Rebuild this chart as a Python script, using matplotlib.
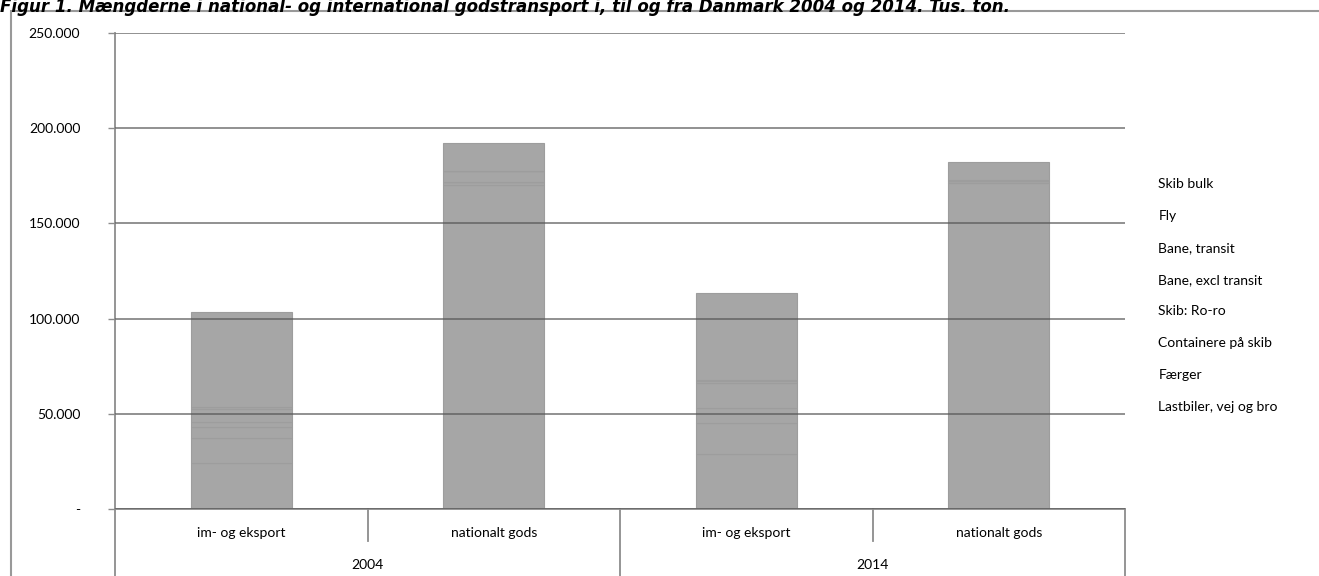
import matplotlib.pyplot as plt
import numpy as np
from matplotlib.patches import Rectangle
from matplotlib.transforms import blended_transform_factory

plt.rcParams['font.family'] = ['Lato', 'DejaVu Sans']

# data (1.000 ton)
aar = ['2004', '2014']
kategorier = ['im- og eksport', 'nationalt gods', 'im- og eksport', 'nationalt gods']
serier = ['Lastbiler, vej og bro', 'Færger', 'Containere på skib', 'Skib: Ro-ro',
          'Bane, excl transit', 'Bane, transit', 'Fly', 'Skib bulk']
lastbiler = [24000, 170000, 29000, 171000]
faerger = [13500, 2000, 16000, 1500]
containere = [5500, 0, 8000, 0]
roro = [2500, 0, 13000, 0]
bane_excl = [7000, 5500, 1000, 500]
bane_transit = [1000, 0, 500, 0]
fly = [100, 50, 100, 50]
skib_bulk = [50000, 14500, 45700, 9400]
vaerdier = [lastbiler, faerger, containere, roro, bane_excl, bane_transit, fly, skib_bulk]
y_ticks = [0, 50000, 100000, 150000, 200000, 250000]
y_labels = ['-', '50.000', '100.000', '150.000', '200.000', '250.000']

titel = ('Figur 1. Mængderne i national- og international godstransport i, til og fra '
         'Danmark 2004 og 2014. Tus. ton.')

W, H = 1319, 576
fig = plt.figure(figsize=(W / 100, H / 100), dpi=100)
ax = fig.add_axes([115 / W, 1 - 509 / H, (1125 - 115) / W, (509 - 33) / H])

x = np.arange(len(kategorier))
bund = np.zeros(len(kategorier))
handles = []
for navn, v in zip(serier, vaerdier):
    b = ax.bar(x, v, 0.4, bottom=bund, color='#a6a6a6', edgecolor='#9d9d9d',
               linewidth=0.8, label=navn, zorder=2)
    handles.append(b)
    bund = bund + np.array(v)

ax.set_xlim(-0.5, len(kategorier) - 0.5)
ax.set_ylim(0, 250000)
ax.set_yticks(y_ticks)
ax.set_yticklabels(y_labels, fontsize=10)
ax.tick_params(axis='y', length=5, width=1, color='#8c8c8c', pad=20)
ax.yaxis.grid(True, color='#555555', alpha=0.7, linewidth=1.3, zorder=3)
ax.set_axisbelow(False)
for s in ['top', 'right']:
    ax.spines[s].set_visible(False)
ax.spines['left'].set_color('#8c8c8c')
ax.spines['bottom'].set_color('#8c8c8c')
ax.spines['left'].set_linewidth(1.3)
ax.spines['bottom'].set_linewidth(1.3)

ax.set_xticks(x)
ax.set_xticklabels(kategorier, fontsize=10)
ax.tick_params(axis='x', length=0, pad=13)

# multi-level category axis
tr = blended_transform_factory(ax.transData, ax.transAxes)
for i in range(len(kategorier) + 1):
    xs = i - 0.5
    ned = -0.16 if i % 2 == 0 else -0.067
    ax.plot([xs, xs], [0, ned], transform=tr, color='#8c8c8c', lw=1.3, clip_on=False)
for j, a in enumerate(aar):
    ax.text(2 * j + 0.5, -0.118, a, transform=tr, ha='center', va='center', fontsize=10)

leg = ax.legend(handles[::-1], serier[::-1], loc='upper left', frameon=False,
                bbox_to_anchor=(1146 / W, 1 - 166 / H), bbox_transform=fig.transFigure,
                handlelength=0, handletextpad=0, labelspacing=1.42, fontsize=10)
for h in leg.legend_handles:
    h.set_visible(False)

# outer frame and title
fig.patches.append(Rectangle((11 / W, -0.1), 1.2, 1 - 11 / H + 0.1, transform=fig.transFigure,
                             fill=False, edgecolor='#999999', linewidth=1.5))
fig.text(0.0, 1 - 12.5 / H, titel, fontsize=12, fontweight='bold', fontstyle='italic',
         family=['DejaVu Sans'], va='baseline', ha='left')

fig.savefig('out.png', dpi=100)
